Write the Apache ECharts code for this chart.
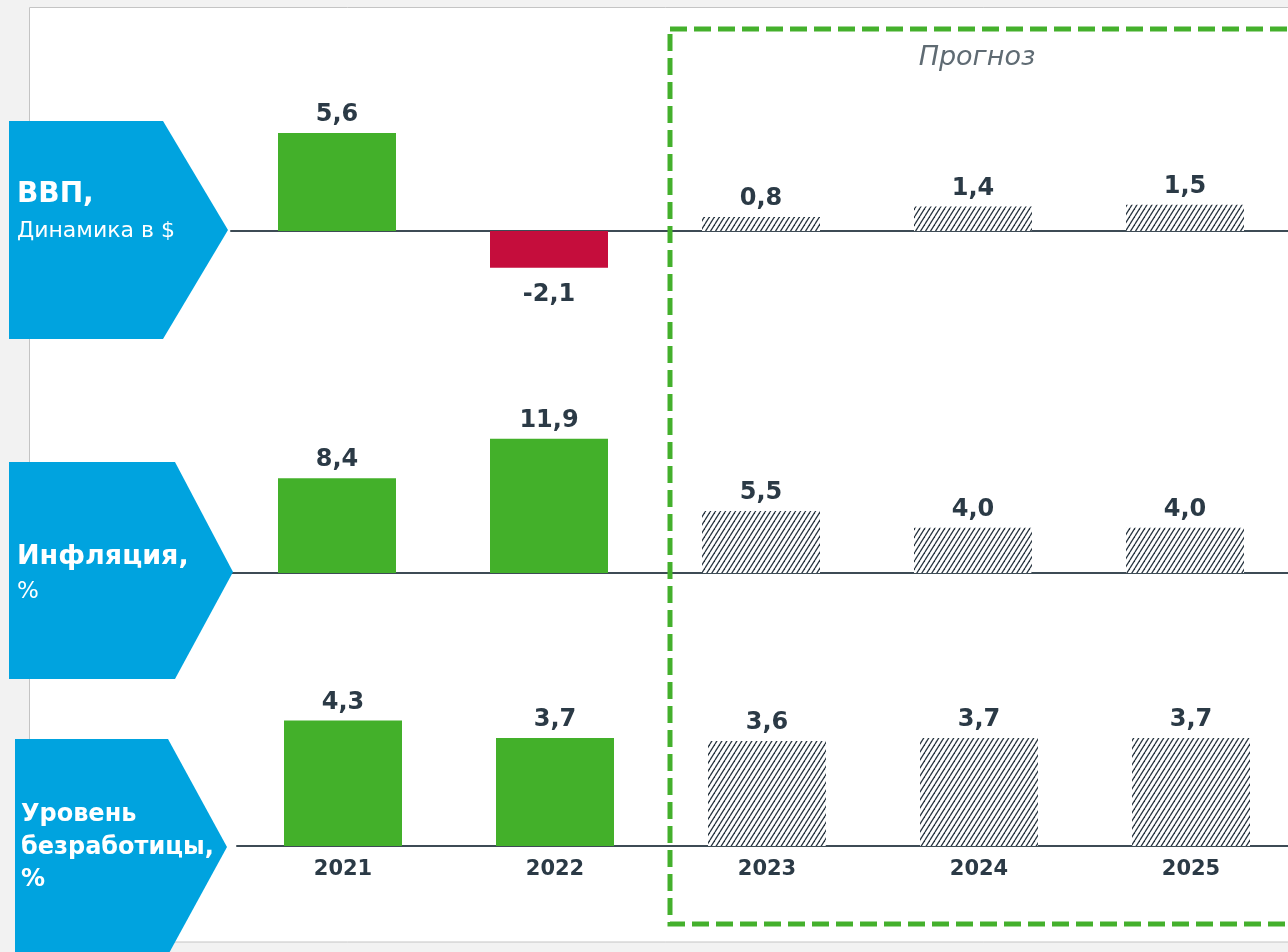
<!DOCTYPE html>
<html>
<head>
<meta charset="utf-8">
<script src="https://cdn.jsdelivr.net/npm/echarts@6/dist/echarts.min.js"></script>
<style>
  html, body { margin: 0; padding: 0; background: #f2f2f2; overflow: hidden; }
  /* чуть шире окна, чтобы последняя категория не сжималась */
  #chart { width: 1300px; height: 952px; }
</style>
</head>
<body>
<div id="chart"></div>
<script>
// данные
const years = ['2021', '2022', '2023', '2024', '2025'];
const gdp = [5.6, -2.1, 0.8, 1.4, 1.5];
const inflation = [8.4, 11.9, 5.5, 4.0, 4.0];
const unemployment = [4.3, 3.7, 3.6, 3.7, 3.7];
const forecastStart = 2; // с 2023 года — прогноз

const GREEN = '#43b02a';
const RED = '#c50d3c';
const BLUE = '#00a3df';
const DARK = '#2b3a46';
const FONT = '"DejaVu Sans", sans-serif';

// штриховка для прогнозных столбцов
function makeHatch() {
  const c = document.createElement('canvas');
  c.width = 5;
  c.height = 8;
  const ctx = c.getContext('2d');
  ctx.fillStyle = '#fff';
  ctx.fillRect(0, 0, 5, 8);
  ctx.strokeStyle = '#25323d';
  ctx.lineWidth = 1.3;
  [-5, 0, 5].forEach(function (dx) {
    ctx.beginPath();
    ctx.moveTo(dx, 8);
    ctx.lineTo(dx + 5, 0);
    ctx.stroke();
  });
  return c;
}
const hatch = { image: makeHatch(), repeat: 'repeat' };

function toItems(values) {
  return values.map(function (v, i) {
    const item = { value: v, itemStyle: {} };
    if (i >= forecastStart) item.itemStyle.color = hatch;
    else item.itemStyle.color = v < 0 ? RED : GREEN;
    if (v < 0) item.label = { position: 'bottom', distance: 15 };
    return item;
  });
}

const valueLabel = {
  show: true,
  position: 'top',
  distance: 6,
  color: DARK,
  fontFamily: FONT,
  fontWeight: 'bold',
  fontSize: 24,
  formatter: function (p) {
    return p.value.toFixed(1).replace('.', ',');
  }
};

function catAxis(grid, showLabels) {
  return {
    type: 'category',
    gridIndex: grid,
    data: years,
    axisTick: { show: false },
    axisLine: { lineStyle: { color: '#3d4b55', width: 2 } },
    axisLabel: {
      show: showLabels,
      margin: 13,
      color: DARK,
      fontFamily: FONT,
      fontWeight: 'bold',
      fontSize: 21
    }
  };
}

function valAxis(grid, min, max) {
  return { type: 'value', gridIndex: grid, min: min, max: max, show: false };
}

const chartDom = document.getElementById('chart');
const myChart = echarts.init(chartDom);

const option = {
  backgroundColor: '#f2f2f2',
  animation: false,
  grid: [
    { left: 231, top: 91, width: 1060, height: 210 },
    { left: 231, top: 415, width: 1060, height: 158 },
    { left: 237, top: 700, width: 1060, height: 146 }
  ],
  xAxis: [catAxis(0, false), catAxis(1, false), catAxis(2, true)],
  yAxis: [valAxis(0, -4, 8), valAxis(1, 0, 14), valAxis(2, 0, 5)],
  series: [
    {
      name: 'ВВП',
      type: 'bar',
      xAxisIndex: 0,
      yAxisIndex: 0,
      barWidth: 118,
      label: valueLabel,
      data: toItems(gdp)
    },
    {
      name: 'Инфляция',
      type: 'bar',
      xAxisIndex: 1,
      yAxisIndex: 1,
      barWidth: 118,
      label: valueLabel,
      data: toItems(inflation)
    },
    {
      name: 'Безработица',
      type: 'bar',
      xAxisIndex: 2,
      yAxisIndex: 2,
      barWidth: 118,
      label: valueLabel,
      data: toItems(unemployment)
    }
  ],
  graphic: [
    // белая панель
    {
      type: 'rect',
      z: -10,
      shape: { x: 29.5, y: 7.5, width: 1300, height: 934.5 },
      style: { fill: '#ffffff', stroke: '#c4c4c4', lineWidth: 1 }
    },
    // рамка прогноза
    {
      type: 'rect',
      z: 50,
      shape: { x: 670, y: 29, width: 700, height: 895 },
      style: { fill: 'transparent', stroke: '#44b02c', lineWidth: 5, lineDash: [17, 7] }
    },
    {
      type: 'text',
      z: 50,
      x: 977,
      y: 58,
      style: {
        text: 'Прогноз',
        fill: '#5f6b73',
        font: 'italic 27px ' + FONT,
        textAlign: 'center',
        textVerticalAlign: 'middle'
      }
    },
    // стрелки-заголовки
    {
      type: 'polygon',
      z: 40,
      shape: { points: [[9, 121], [163, 121], [228, 230], [163, 339], [9, 339]] },
      style: { fill: BLUE }
    },
    {
      type: 'polygon',
      z: 40,
      shape: { points: [[9, 462], [175, 462], [233, 572], [175, 679], [9, 679]] },
      style: { fill: BLUE }
    },
    {
      type: 'polygon',
      z: 40,
      shape: { points: [[15, 739], [168, 739], [227, 847], [168, 955], [15, 955]] },
      style: { fill: BLUE }
    },
    {
      type: 'text', z: 45, x: 17, y: 195,
      style: { text: 'ВВП,', fill: '#fff', font: 'bold 28px ' + FONT, textVerticalAlign: 'middle' }
    },
    {
      type: 'text', z: 45, x: 17, y: 231,
      style: { text: 'Динамика в $', fill: '#fff', font: '22px ' + FONT, textVerticalAlign: 'middle' }
    },
    {
      type: 'text', z: 45, x: 17, y: 557,
      style: { text: 'Инфляция,', fill: '#fff', font: 'bold 27px ' + FONT, textVerticalAlign: 'middle' }
    },
    {
      type: 'text', z: 45, x: 17, y: 592,
      style: { text: '%', fill: '#fff', font: '23px ' + FONT, textVerticalAlign: 'middle' }
    },
    {
      type: 'text', z: 45, x: 21, y: 815,
      style: { text: 'Уровень', fill: '#fff', font: 'bold 24px ' + FONT, textVerticalAlign: 'middle' }
    },
    {
      type: 'text', z: 45, x: 21, y: 848,
      style: { text: 'безработицы,', fill: '#fff', font: 'bold 24px ' + FONT, textVerticalAlign: 'middle' }
    },
    {
      type: 'text', z: 45, x: 21, y: 880,
      style: { text: '%', fill: '#fff', font: 'bold 24px ' + FONT, textVerticalAlign: 'middle' }
    }
  ]
};

option && myChart.setOption(option);
</script>
</body>
</html>
